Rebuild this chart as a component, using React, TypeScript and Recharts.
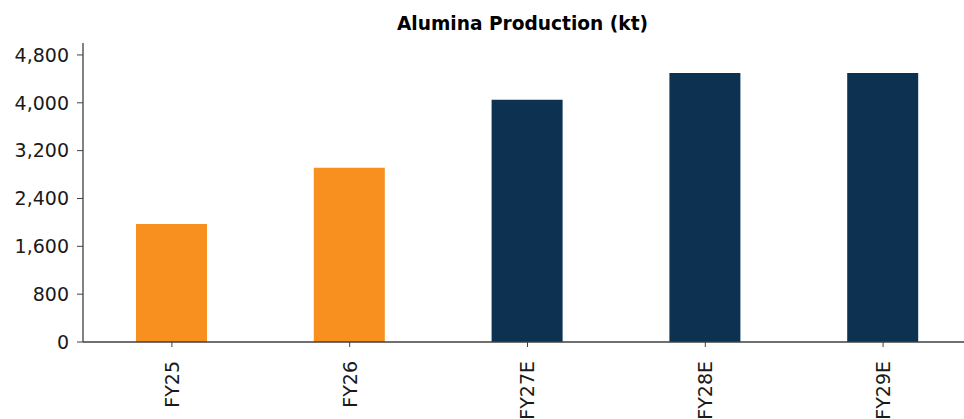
import { BarChart, Bar, XAxis, YAxis, Cell } from 'recharts';

const years = ['FY25', 'FY26', 'FY27E', 'FY28E', 'FY29E'];
const production = [1975, 2915, 4050, 4500, 4500];
const isEstimate = [false, false, true, true, true];
const yTicks = [0, 800, 1600, 2400, 3200, 4000, 4800];

const ACTUAL = '#F7901E';
const ESTIMATE = '#0D3251';
const AXIS = '#404040';
const FONT = '"DejaVu Sans", Verdana, sans-serif';
const TICK_SIZE = 19;

const data = years.map((year, i) => ({ year, value: production[i], estimate: isEstimate[i] }));

function YearTick(props: any) {
  const { x, y, payload } = props;
  return (
    <g transform={`translate(${x},${y + 12})`}>
      <text
        transform="rotate(-90)"
        textAnchor="end"
        dy="0.36em"
        fontSize={TICK_SIZE}
        fontFamily={FONT}
        fill="#1a1a1a"
      >
        {payload.value}
      </text>
    </g>
  );
}

export default function App() {
  return (
    <div
      style={{
        position: 'absolute',
        left: 0,
        top: 0,
        width: 964,
        height: 419,
        overflow: 'hidden',
        background: '#fff',
      }}
    >
      <div
        style={{
          position: 'absolute',
          left: 522.5,
          top: 13,
          transform: 'translateX(-50%)',
          whiteSpace: 'nowrap',
          fontFamily: FONT,
          fontWeight: 'bold',
          fontSize: 18.6,
          lineHeight: '21px',
          color: '#000',
        }}
      >
        Alumina Production (kt)
      </div>
      <BarChart
        width={990}
        height={419}
        data={data}
        margin={{ top: 43, right: 18, bottom: 0, left: 0 }}
        barSize={71}
      >
        <XAxis
          dataKey="year"
          height={77}
          interval={0}
          tickSize={5}
          tickLine={{ stroke: AXIS }}
          axisLine={{ stroke: AXIS, strokeWidth: 1.3 }}
          tick={<YearTick />}
        />
        <YAxis
          width={83}
          domain={[0, 5000]}
          ticks={yTicks}
          interval={0}
          allowDataOverflow
          tickSize={6}
          tickMargin={8}
          tickLine={{ stroke: AXIS }}
          axisLine={{ stroke: AXIS, strokeWidth: 1.3 }}
          tick={{ fontSize: TICK_SIZE, fontFamily: FONT, fill: '#1a1a1a' }}
          tickFormatter={(v: number) => v.toLocaleString('en-US')}
        />
        <Bar dataKey="value" isAnimationActive={false}>
          {data.map((d) => (
            <Cell key={d.year} fill={d.estimate ? ESTIMATE : ACTUAL} />
          ))}
        </Bar>
      </BarChart>
    </div>
  );
}
